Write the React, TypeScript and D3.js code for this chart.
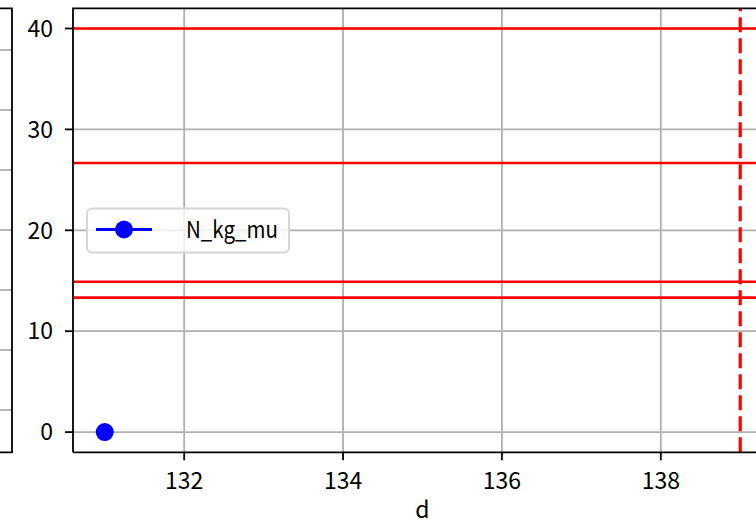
import React from "react";
import * as d3 from "d3";

const seriesName = "N_kg_mu";
const xValues = [131];
const yValues = [0];
const hLines = [40, 26.67, 14.9, 13.33];
const vLine = 139;
const xTicks = [132, 134, 136, 138];
const yTicks = [0, 10, 20, 30, 40];
const xLabel = "d";
const leftPanelGrid = [50, 110, 170, 230, 290, 350, 410];

const W = 756;
const H = 524;
const FONT = "'Noto Sans CJK JP', 'Noto Sans', sans-serif";

export default function App() {
  const left = 73;
  const right = 772;
  const top = 8.3;
  const bottom = 452.3;
  const x = d3.scaleLinear().domain([130.6, 139.4]).range([left, right]);
  const y = d3.scaleLinear().domain([-2, 42]).range([bottom, top]);
  const line = d3.line<number>().x((_, i) => x(xValues[i])).y((d) => y(d));
  const pts = yValues;
  const vx = x(vLine);
  const grid = "#b0b0b0";
  return (
    <svg width={W} height={H} style={{ position: "absolute", left: 0, top: 0, background: "#fff" }}>
      <rect x={0} y={0} width={W} height={H} fill="#fff" />
      {/* partial left panel */}
      <g>
        {leftPanelGrid.map((g, i) => (
          <line key={i} x1={0} x2={12} y1={g} y2={g} stroke={grid} strokeWidth={1.8} />
        ))}
        <path d={`M-5,${top}H12V${bottom}H-5`} fill="none" stroke="#000" strokeWidth={1.8} />
      </g>
      <defs>
        <clipPath id="plot">
          <rect x={left} y={top} width={right - left} height={bottom - top} />
        </clipPath>
      </defs>
      {/* grid */}
      {xTicks.map((t) => (
        <line key={"gx" + t} x1={x(t)} x2={x(t)} y1={top} y2={bottom} stroke={grid} strokeWidth={1.8} />
      ))}
      {yTicks.map((t) => (
        <line key={"gy" + t} x1={left} x2={right} y1={y(t)} y2={y(t)} stroke={grid} strokeWidth={1.8} />
      ))}
      <g clipPath="url(#plot)">
        {hLines.map((h, i) => (
          <line key={"h" + i} x1={left} x2={right} y1={y(h)} y2={y(h)} stroke="#ff0000" strokeWidth={2.7} />
        ))}
        <line x1={vx} x2={vx} y1={bottom} y2={top} stroke="#ff0000" strokeWidth={3.2} strokeDasharray="15,6" />
        <path d={line(pts) || ""} fill="none" stroke="#0000ff" strokeWidth={3.2} />
        {pts.map((d, i) => (
          <circle key={i} cx={x(xValues[i])} cy={y(d)} r={9} fill="#0000ff" />
        ))}
      </g>
      {/* spines */}
      <path d={`M${left},${bottom}V${top}H${right}`} fill="none" stroke="#000" strokeWidth={1.8} />
      <line x1={left} x2={right} y1={bottom} y2={bottom} stroke="#000" strokeWidth={1.8} />
      {/* ticks */}
      {xTicks.map((t) => (
        <g key={"tx" + t}>
          <line x1={x(t)} x2={x(t)} y1={bottom} y2={bottom + 8} stroke="#000" strokeWidth={1.8} />
          <text x={x(t)} y={489} textAnchor="middle" fontFamily={FONT} fontSize={23} fill="#000">
            {t}
          </text>
        </g>
      ))}
      {yTicks.map((t) => (
        <g key={"ty" + t}>
          <line x1={left - 8} x2={left} y1={y(t)} y2={y(t)} stroke="#000" strokeWidth={1.8} />
          <text x={53} y={y(t)} dy="0.36em" textAnchor="end" fontFamily={FONT} fontSize={23} fill="#000">
            {t}
          </text>
        </g>
      ))}
      <text x={(left + right) / 2} y={518} textAnchor="middle" fontFamily={FONT} fontSize={23} fill="#000">
        {xLabel}
      </text>
      {/* legend */}
      <g>
        <rect x={87} y={208.5} width={202} height={44} rx={5} fill="#fff" fillOpacity={0.8} stroke="#d5d5d5" strokeWidth={2} />
        <line x1={96} x2={152} y1={229.5} y2={229.5} stroke="#0000ff" strokeWidth={3.2} />
        <circle cx={124} cy={229.5} r={9} fill="#0000ff" />
        <text x={186} y={229.5} dy="0.36em" fontFamily={FONT} fontSize={23} fill="#000" textLength={92} lengthAdjust="spacingAndGlyphs">
          {seriesName}
        </text>
      </g>
    </svg>
  );
}
